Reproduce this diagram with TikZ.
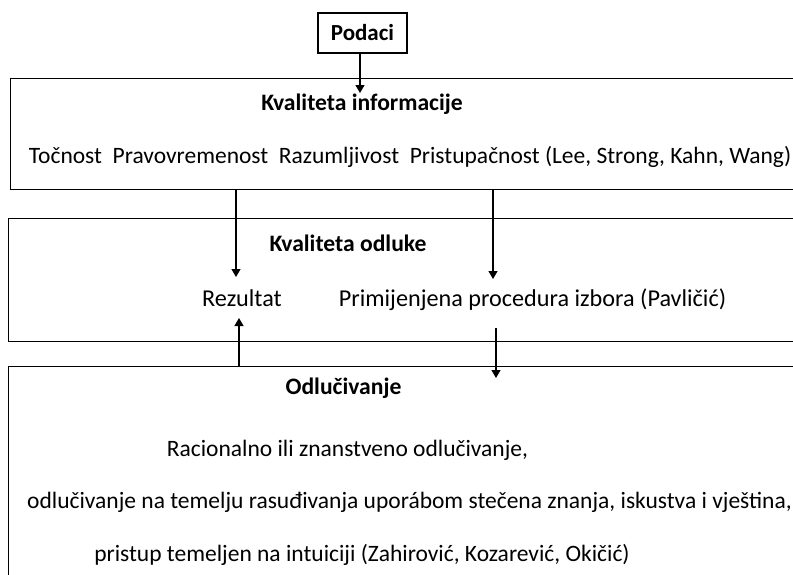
\documentclass[tikz,border=0pt]{standalone}
\usepackage{fontspec}
\setmainfont{Carlito}
\usetikzlibrary{positioning,arrows.meta}

\begin{document}
\begin{tikzpicture}[x=0.5pt,y=-0.5pt]
	\tikzstyle{bigbox} = [draw=black, line width=0.7pt, inner sep=0pt, anchor=north west]
	\tikzstyle{databox} = [draw=black, line width=0.8pt, minimum width=44.5pt, minimum height=20pt, font=\fontsize{11.5}{13}\selectfont\bfseries]
	\tikzstyle{txt} = [inner sep=0pt, anchor=base, font=\fontsize{11.75}{14}\selectfont]
	\tikzstyle{midtxt} = [inner sep=0pt, anchor=base, font=\fontsize{12.1}{14}\selectfont]
	\tikzstyle{title} = [inner sep=0pt, anchor=base, font=\fontsize{11.8}{14}\selectfont\bfseries]
	\tikzstyle{arr} = [-{Triangle[length=4pt,width=4.5pt]}, line width=0.6pt, black]
	
	\useasboundingbox (0,0) rectangle (793,574);
	\clip (0,0) rectangle (793,574);
	
	% boxes (cut off on the right)
	\node[bigbox, minimum width=410pt, minimum height=55.5pt] (infobox) at (10,78) {};
	\node[bigbox, minimum width=412pt, minimum height=61.5pt] (odlukebox) at (8,218) {};
	\node[bigbox, minimum width=412pt, minimum height=120pt] (odlucbox) at (8,366) {};
	
	\node[databox] (podaci) at (362.5,33) {Podaci};
	
	\node[title] (infotitle) at (362,110) {Kvaliteta informacije};
	\node[txt] (criteria) at (410,163) {Točnost\ \ Pravovremenost\ \ Razumljivost\ \ Pristupačnost (Lee, Strong, Kahn, Wang)};
	
	\node[title] (odluketitle) at (348,251) {Kvaliteta odluke};
	\node[midtxt] (rezultat) at (242,306) {Rezultat};
	\node[midtxt] (procedura) at (532.5,306) {Primijenjena procedura izbora (Pavličić)};
	
	\node[title] (odluctitle) at (343.5,394) {Odlučivanje};
	\node[txt] (racionalno) at (347.5,456) {Racionalno ili znanstveno odlučivanje,};
	\node[txt] (rasudivanje) at (409.5,508) {odlučivanje na temelju rasuđivanja uporábom stečena znanja, iskustva i vještina,};
	\node[txt] (intuicija) at (362,561) {pristup temeljen na intuiciji (Zahirović, Kozarević, Okičić)};
	
	% arrow ends
	\coordinate (infoin) at (360,93);
	\coordinate (rezin) at (236,277);
	\coordinate (procin) at (493,279);
	\coordinate (rezup) at (239,318);
	\coordinate (procout) at (496,328);
	\coordinate (odlucin) at (496,378);
	
	%Arrows
	\draw[arr] (podaci.south -| infoin) -- (infoin);
	\draw[arr] (rezin |- infobox.south) -- (rezin);
	\draw[arr] (procin |- infobox.south) -- (procin);
	\draw[arr] (rezup |- odlucbox.north) -- (rezup);
	\draw[arr] (procout) -- (odlucin);
	
\end{tikzpicture}
\end{document}
